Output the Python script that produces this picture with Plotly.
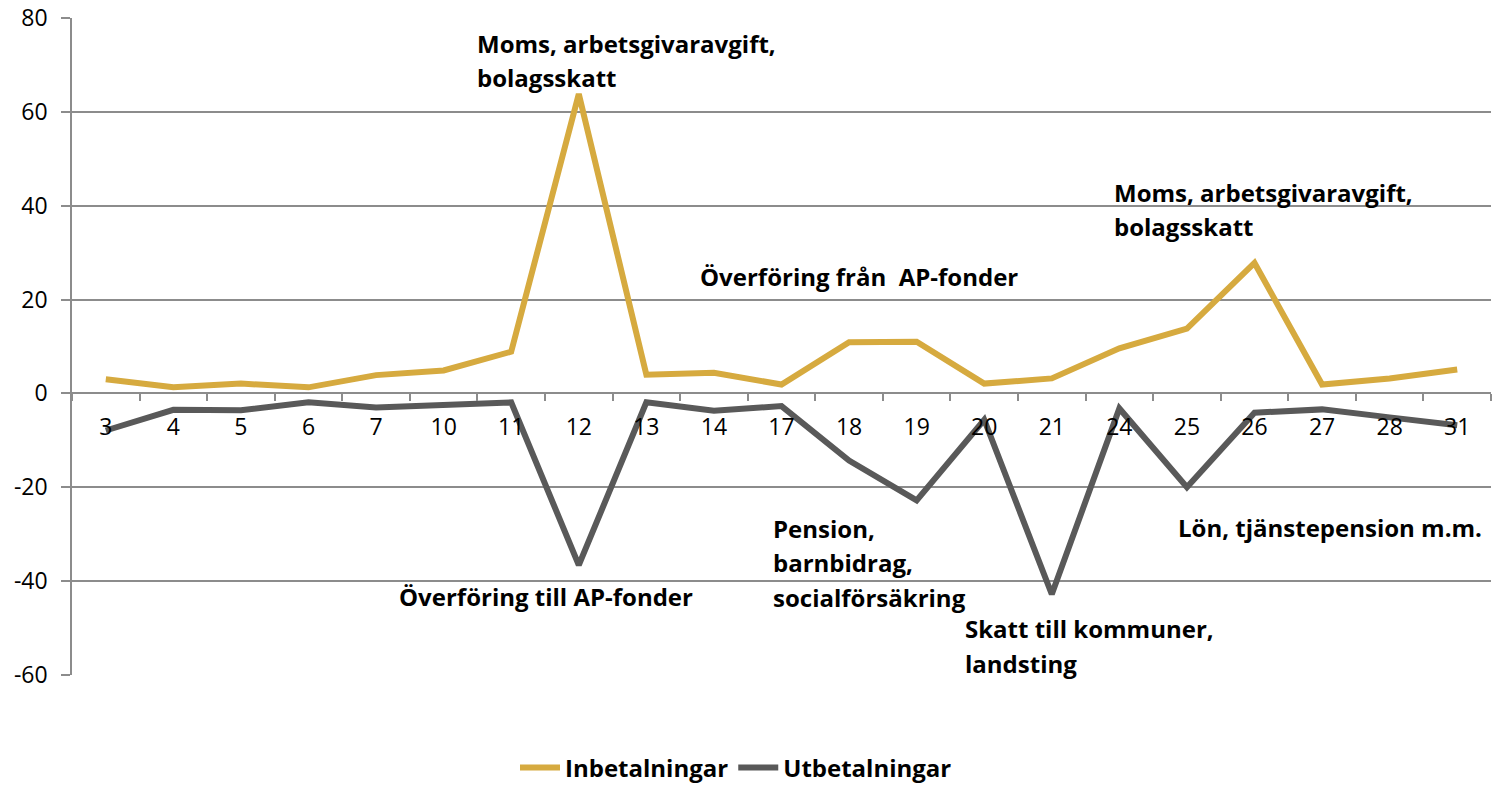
import plotly.graph_objects as go

# ---- data ----
days = ["3", "4", "5", "6", "7", "10", "11", "12", "13", "14", "17",
        "18", "19", "20", "21", "24", "25", "26", "27", "28", "31"]
inbetalningar = [3.0, 1.3, 2.1, 1.3, 3.9, 4.9, 8.9, 63.8, 4.0, 4.4, 1.9,
                 10.9, 11.0, 2.1, 3.2, 9.6, 13.8, 27.8, 1.9, 3.2, 5.1]
utbetalningar = [-7.9, -3.5, -3.6, -1.9, -3.0, -2.6, -1.9, -36.6, -1.9, -3.7, -2.7,
                 -14.3, -22.8, -5.6, -42.8, -3.2, -20.0, -4.1, -3.4, -5.1, -6.8]
series_names = ["Inbetalningar", "Utbetalningar"]
y_ticks = [-60, -40, -20, 0, 20, 40, 60, 80]

# annotation texts (one entry per text line)
note_lines = [
    "Moms, arbetsgivaravgift,", "bolagsskatt",
    "Överföring från  AP-fonder",
    "Moms, arbetsgivaravgift,", "bolagsskatt",
    "Överföring till AP-fonder",
    "Pension,", "barnbidrag,", "socialförsäkring",
    "Skatt till kommuner,", "landsting",
    "Lön, tjänstepension m.m.",
]

# ---- layout / style ----
W, H = 1495, 788
ML, MT = 72, 18
PW = 1491 - 72
PH = 675 - 18
MR, MB = W - ML - PW, H - MT - PH
FONT = "Open Sans"
GOLD = "#D6AA3F"
GREY = "#595959"
GRID = "#8C8C8C"

# screen-pixel placement (left x, center y) for each annotation line
note_pos = [
    (475, 43), (475, 77),
    (698, 276),
    (1112, 192), (1112, 226),
    (397, 596),
    (771, 528), (771, 562), (771, 597),
    (963, 628), (963, 663),
    (1176, 527),
]

def px_to_paper(px, py):
    return (px - ML) / PW, (MT + PH - py) / PH

fig = go.Figure()
fig.add_trace(go.Scatter(x=days, y=inbetalningar, mode="lines", name=series_names[0],
                         line=dict(color=GOLD, width=6)))
fig.add_trace(go.Scatter(x=days, y=utbetalningar, mode="lines", name=series_names[1],
                         line=dict(color=GREY, width=6)))

for txt, (px, py) in zip(note_lines, note_pos):
    ax, ay = px_to_paper(px, py)
    fig.add_annotation(text="<b>%s</b>" % txt, x=ax, y=ay, xref="paper", yref="paper",
                       xanchor="left", yanchor="middle", showarrow=False,
                       font=dict(family=FONT, size=24, color="#000000"))

lx, ly = px_to_paper(736, 768)
ymin, ymax = -60, 80
fig.update_layout(
    width=W, height=H,
    margin=dict(l=ML, r=MR, t=MT, b=MB, autoexpand=False),
    paper_bgcolor="white", plot_bgcolor="white",
    font=dict(family=FONT, size=23, color="#000000"),
    showlegend=True,
    legend=dict(orientation="h", x=lx, xanchor="center", y=ly,
                yanchor="middle", font=dict(family=FONT, size=24, color="#000000"),
                itemwidth=40, traceorder="normal"),
    xaxis=dict(type="category", anchor="free", position=(0 - ymin) / (ymax - ymin),
               showline=True, linecolor=GRID, linewidth=1.5,
               ticks="outside", tickson="boundaries", ticklen=7, tickcolor=GRID, tickwidth=1.5,
               ticklabelstandoff=13, ticklabeloverflow="allow",
               showgrid=False, tickfont=dict(family=FONT, size=23, color="#000000"),
               range=[-0.5, len(days) - 0.5], fixedrange=True),
    yaxis=dict(range=[ymin, ymax], tickvals=y_ticks, ticktext=[str(v) for v in y_ticks],
               showgrid=True, gridcolor=GRID, gridwidth=1.5,
               zeroline=False, showline=True, linecolor=GRID, linewidth=1.5,
               ticks="outside", ticklen=9, tickcolor=GRID, tickwidth=1.5,
               ticklabelstandoff=9, ticklabeloverflow="allow",
               tickfont=dict(family=FONT, size=23, color="#000000")),
)
fig.for_each_trace(lambda t: t.update(name="<b>%s</b>" % t.name))

fig.write_html("out.html", config={"displayModeBar": False},
               post_script="document.body.style.margin='0';document.body.style.overflow='hidden';")
